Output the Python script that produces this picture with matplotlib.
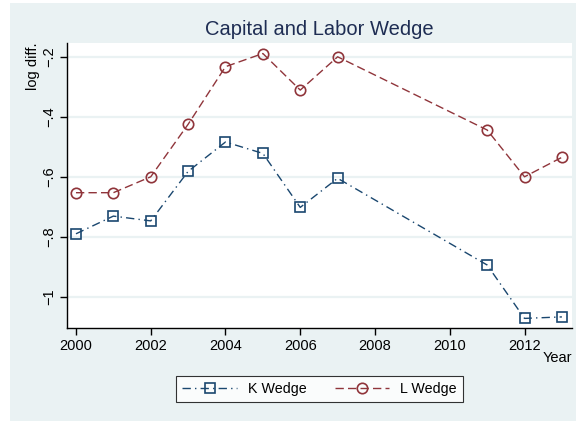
import matplotlib
matplotlib.use("Agg")
import matplotlib.pyplot as plt
from matplotlib.patches import Rectangle

years = [2000, 2001, 2002, 2003, 2004, 2005, 2006, 2007, 2011, 2012, 2013]
k_wedge = [-0.790, -0.731, -0.747, -0.582, -0.484, -0.522, -0.702, -0.605, -0.894, -1.072, -1.067]
l_wedge = [-0.653, -0.653, -0.600, -0.425, -0.233, -0.189, -0.311, -0.200, -0.444, -0.600, -0.535]
x_ticks = [2000, 2002, 2004, 2006, 2008, 2010, 2012]
y_ticks = [-1.0, -0.8, -0.6, -0.4, -0.2]
y_labels = ["\u22121", "\u2212.8", "\u2212.6", "\u2212.4", "\u2212.2"]

plt.rcParams['font.family'] = ['Liberation Sans', 'DejaVu Sans']

BG = "#EAF2F3"
KC = "#1A476F"
LC = "#90353B"

fig = plt.figure(figsize=(5.76, 4.21), dpi=100, facecolor="white")
fig.patches.append(Rectangle((10/576, 0), 1 - 10/576, 1 - 3/421,
                             transform=fig.transFigure, facecolor=BG,
                             edgecolor="none", zorder=-10))

ax = fig.add_axes([67/576, 1 - 328/421, (572 - 67)/576, (328 - 43)/421])
ax.set_facecolor("white")

ax.plot(years, k_wedge, color=KC, linestyle=(0, (6, 3, 1, 3)), linewidth=1.0,
        marker="s", markersize=7, markerfacecolor="none", markeredgecolor=KC,
        markeredgewidth=1.2, label="K Wedge", zorder=3)
ax.plot(years, l_wedge, color=LC, linestyle=(0, (6, 3)), linewidth=1.0,
        marker="o", markersize=7.5, markerfacecolor="none", markeredgecolor=LC,
        markeredgewidth=1.2, label="L Wedge", zorder=3)

ax.set_xlim(1999.76, 2013.27)
ax.set_ylim(-1.104, -0.154)
ax.set_xticks(x_ticks)
ax.set_xticklabels([str(t) for t in x_ticks], fontsize=10.5)
ax.set_yticks(y_ticks)
ax.set_yticklabels(y_labels, fontsize=10.5, rotation=90, va="center")

ax.grid(axis="y", color=BG, linewidth=1.6, zorder=1)
ax.set_axisbelow(True)
for s in ["top", "right"]:
    ax.spines[s].set_visible(False)
for s in ["left", "bottom"]:
    ax.spines[s].set_color("black")
    ax.spines[s].set_linewidth(1.0)
ax.tick_params(direction="out", length=5, width=1.0, colors="black", pad=3)

ax.set_title("Capital and Labor Wedge", fontsize=14.5, color="#1E2D53", pad=5.8)
ax.text(1.0, -0.105, "Year", transform=ax.transAxes, ha="right", va="center", fontsize=10.5)
ax.text(-0.067, 1.0, "log diff.", transform=ax.transAxes, rotation=90,
        ha="center", va="top", fontsize=10.5)

leg = fig.legend(loc="center", bbox_to_anchor=(319.5/576, 1 - 389/421), ncol=2,
                 fontsize=10.3, frameon=True, fancybox=False, edgecolor="black",
                 handlelength=3.8, columnspacing=2.0, handletextpad=0.75,
                 borderpad=0.45, borderaxespad=0)
leg.get_frame().set_linewidth(0.8)
leg.get_frame().set_facecolor("white")

fig.savefig("out.png", dpi=100, facecolor=fig.get_facecolor())
